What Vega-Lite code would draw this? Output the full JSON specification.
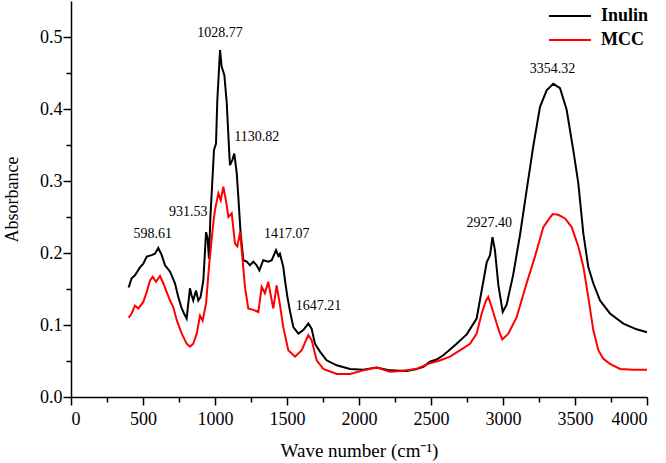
{
  "$schema": "https://vega.github.io/schema/vega-lite/v6.json",
  "width": 576,
  "height": 396,
  "autosize": "none",
  "padding": {"left": 71, "top": 1, "right": 19, "bottom": 66},
  "background": "white",
  "config": {
    "view": {"stroke": null},
    "axis": {
      "grid": false,
      "domainColor": "black",
      "domainWidth": 1.5,
      "tickColor": "black",
      "tickWidth": 1.5,
      "labelFont": "Liberation Serif",
      "labelFontSize": 18,
      "labelColor": "black",
      "titleFont": "Liberation Serif",
      "titleFontSize": 19,
      "titleFontWeight": "normal",
      "titleColor": "black"
    }
  },
  "datasets": {
    "spectra": [
      {"s": "Inulin", "wn": 400, "a": 0.152},
      {"s": "Inulin", "wn": 421, "a": 0.165},
      {"s": "Inulin", "wn": 444, "a": 0.169},
      {"s": "Inulin", "wn": 479, "a": 0.18},
      {"s": "Inulin", "wn": 502, "a": 0.185},
      {"s": "Inulin", "wn": 526, "a": 0.195},
      {"s": "Inulin", "wn": 560, "a": 0.197},
      {"s": "Inulin", "wn": 583, "a": 0.199},
      {"s": "Inulin", "wn": 606, "a": 0.207},
      {"s": "Inulin", "wn": 630, "a": 0.197},
      {"s": "Inulin", "wn": 653, "a": 0.183},
      {"s": "Inulin", "wn": 688, "a": 0.174},
      {"s": "Inulin", "wn": 722, "a": 0.158},
      {"s": "Inulin", "wn": 745, "a": 0.139},
      {"s": "Inulin", "wn": 769, "a": 0.123},
      {"s": "Inulin", "wn": 785, "a": 0.116},
      {"s": "Inulin", "wn": 803, "a": 0.109},
      {"s": "Inulin", "wn": 826, "a": 0.151},
      {"s": "Inulin", "wn": 838, "a": 0.141},
      {"s": "Inulin", "wn": 849, "a": 0.134},
      {"s": "Inulin", "wn": 868, "a": 0.148},
      {"s": "Inulin", "wn": 884, "a": 0.134},
      {"s": "Inulin", "wn": 900, "a": 0.139},
      {"s": "Inulin", "wn": 919, "a": 0.162},
      {"s": "Inulin", "wn": 938, "a": 0.229},
      {"s": "Inulin", "wn": 949, "a": 0.22},
      {"s": "Inulin", "wn": 958, "a": 0.192},
      {"s": "Inulin", "wn": 968, "a": 0.25},
      {"s": "Inulin", "wn": 977, "a": 0.283},
      {"s": "Inulin", "wn": 993, "a": 0.343},
      {"s": "Inulin", "wn": 1007, "a": 0.352},
      {"s": "Inulin", "wn": 1016, "a": 0.412},
      {"s": "Inulin", "wn": 1035, "a": 0.482},
      {"s": "Inulin", "wn": 1046, "a": 0.459},
      {"s": "Inulin", "wn": 1065, "a": 0.447},
      {"s": "Inulin", "wn": 1081, "a": 0.41},
      {"s": "Inulin", "wn": 1100, "a": 0.335},
      {"s": "Inulin", "wn": 1104, "a": 0.322},
      {"s": "Inulin", "wn": 1120, "a": 0.329},
      {"s": "Inulin", "wn": 1134, "a": 0.338},
      {"s": "Inulin", "wn": 1151, "a": 0.311},
      {"s": "Inulin", "wn": 1162, "a": 0.278},
      {"s": "Inulin", "wn": 1178, "a": 0.227},
      {"s": "Inulin", "wn": 1197, "a": 0.19},
      {"s": "Inulin", "wn": 1220, "a": 0.188},
      {"s": "Inulin", "wn": 1243, "a": 0.183},
      {"s": "Inulin", "wn": 1266, "a": 0.188},
      {"s": "Inulin", "wn": 1289, "a": 0.183},
      {"s": "Inulin", "wn": 1308, "a": 0.176},
      {"s": "Inulin", "wn": 1335, "a": 0.19},
      {"s": "Inulin", "wn": 1370, "a": 0.188},
      {"s": "Inulin", "wn": 1394, "a": 0.19},
      {"s": "Inulin", "wn": 1424, "a": 0.204},
      {"s": "Inulin", "wn": 1440, "a": 0.196},
      {"s": "Inulin", "wn": 1451, "a": 0.199},
      {"s": "Inulin", "wn": 1474, "a": 0.181},
      {"s": "Inulin", "wn": 1486, "a": 0.162},
      {"s": "Inulin", "wn": 1502, "a": 0.14},
      {"s": "Inulin", "wn": 1520, "a": 0.12},
      {"s": "Inulin", "wn": 1544, "a": 0.097},
      {"s": "Inulin", "wn": 1579, "a": 0.088},
      {"s": "Inulin", "wn": 1613, "a": 0.093},
      {"s": "Inulin", "wn": 1648, "a": 0.102},
      {"s": "Inulin", "wn": 1671, "a": 0.095},
      {"s": "Inulin", "wn": 1694, "a": 0.074},
      {"s": "Inulin", "wn": 1729, "a": 0.063},
      {"s": "Inulin", "wn": 1775, "a": 0.051},
      {"s": "Inulin", "wn": 1845, "a": 0.044},
      {"s": "Inulin", "wn": 1938, "a": 0.039},
      {"s": "Inulin", "wn": 2030, "a": 0.038},
      {"s": "Inulin", "wn": 2123, "a": 0.041},
      {"s": "Inulin", "wn": 2215, "a": 0.037},
      {"s": "Inulin", "wn": 2331, "a": 0.036},
      {"s": "Inulin", "wn": 2400, "a": 0.039},
      {"s": "Inulin", "wn": 2447, "a": 0.042},
      {"s": "Inulin", "wn": 2493, "a": 0.049},
      {"s": "Inulin", "wn": 2539, "a": 0.052},
      {"s": "Inulin", "wn": 2585, "a": 0.058},
      {"s": "Inulin", "wn": 2632, "a": 0.066},
      {"s": "Inulin", "wn": 2678, "a": 0.074},
      {"s": "Inulin", "wn": 2748, "a": 0.087},
      {"s": "Inulin", "wn": 2817, "a": 0.109},
      {"s": "Inulin", "wn": 2840, "a": 0.135},
      {"s": "Inulin", "wn": 2863, "a": 0.16},
      {"s": "Inulin", "wn": 2887, "a": 0.187},
      {"s": "Inulin", "wn": 2910, "a": 0.197},
      {"s": "Inulin", "wn": 2927, "a": 0.222},
      {"s": "Inulin", "wn": 2944, "a": 0.204},
      {"s": "Inulin", "wn": 2968, "a": 0.155},
      {"s": "Inulin", "wn": 2998, "a": 0.118},
      {"s": "Inulin", "wn": 3025, "a": 0.128},
      {"s": "Inulin", "wn": 3071, "a": 0.17},
      {"s": "Inulin", "wn": 3118, "a": 0.225},
      {"s": "Inulin", "wn": 3164, "a": 0.287},
      {"s": "Inulin", "wn": 3210, "a": 0.348},
      {"s": "Inulin", "wn": 3257, "a": 0.403},
      {"s": "Inulin", "wn": 3303, "a": 0.426},
      {"s": "Inulin", "wn": 3349, "a": 0.435},
      {"s": "Inulin", "wn": 3396, "a": 0.429},
      {"s": "Inulin", "wn": 3442, "a": 0.399},
      {"s": "Inulin", "wn": 3488, "a": 0.343},
      {"s": "Inulin", "wn": 3523, "a": 0.297},
      {"s": "Inulin", "wn": 3558, "a": 0.227},
      {"s": "Inulin", "wn": 3592, "a": 0.181},
      {"s": "Inulin", "wn": 3627, "a": 0.158},
      {"s": "Inulin", "wn": 3674, "a": 0.134},
      {"s": "Inulin", "wn": 3743, "a": 0.116},
      {"s": "Inulin", "wn": 3836, "a": 0.102},
      {"s": "Inulin", "wn": 3928, "a": 0.094},
      {"s": "Inulin", "wn": 4000, "a": 0.09},
      {"s": "MCC", "wn": 400, "a": 0.11},
      {"s": "MCC", "wn": 421, "a": 0.116},
      {"s": "MCC", "wn": 444, "a": 0.127},
      {"s": "MCC", "wn": 468, "a": 0.123},
      {"s": "MCC", "wn": 502, "a": 0.132},
      {"s": "MCC", "wn": 526, "a": 0.146},
      {"s": "MCC", "wn": 549, "a": 0.162},
      {"s": "MCC", "wn": 567, "a": 0.167},
      {"s": "MCC", "wn": 590, "a": 0.16},
      {"s": "MCC", "wn": 618, "a": 0.168},
      {"s": "MCC", "wn": 641, "a": 0.158},
      {"s": "MCC", "wn": 664, "a": 0.146},
      {"s": "MCC", "wn": 688, "a": 0.134},
      {"s": "MCC", "wn": 710, "a": 0.125},
      {"s": "MCC", "wn": 734, "a": 0.107},
      {"s": "MCC", "wn": 769, "a": 0.088},
      {"s": "MCC", "wn": 803, "a": 0.074},
      {"s": "MCC", "wn": 826, "a": 0.07},
      {"s": "MCC", "wn": 849, "a": 0.074},
      {"s": "MCC", "wn": 873, "a": 0.088},
      {"s": "MCC", "wn": 896, "a": 0.113},
      {"s": "MCC", "wn": 914, "a": 0.106},
      {"s": "MCC", "wn": 938, "a": 0.13},
      {"s": "MCC", "wn": 960, "a": 0.185},
      {"s": "MCC", "wn": 988, "a": 0.241},
      {"s": "MCC", "wn": 1000, "a": 0.26},
      {"s": "MCC", "wn": 1023, "a": 0.283},
      {"s": "MCC", "wn": 1040, "a": 0.273},
      {"s": "MCC", "wn": 1058, "a": 0.292},
      {"s": "MCC", "wn": 1076, "a": 0.273},
      {"s": "MCC", "wn": 1093, "a": 0.25},
      {"s": "MCC", "wn": 1116, "a": 0.255},
      {"s": "MCC", "wn": 1139, "a": 0.213},
      {"s": "MCC", "wn": 1155, "a": 0.209},
      {"s": "MCC", "wn": 1174, "a": 0.229},
      {"s": "MCC", "wn": 1192, "a": 0.19},
      {"s": "MCC", "wn": 1208, "a": 0.153},
      {"s": "MCC", "wn": 1231, "a": 0.123},
      {"s": "MCC", "wn": 1266, "a": 0.121},
      {"s": "MCC", "wn": 1301, "a": 0.118},
      {"s": "MCC", "wn": 1324, "a": 0.153},
      {"s": "MCC", "wn": 1347, "a": 0.144},
      {"s": "MCC", "wn": 1370, "a": 0.16},
      {"s": "MCC", "wn": 1394, "a": 0.134},
      {"s": "MCC", "wn": 1405, "a": 0.123},
      {"s": "MCC", "wn": 1428, "a": 0.155},
      {"s": "MCC", "wn": 1451, "a": 0.128},
      {"s": "MCC", "wn": 1474, "a": 0.097},
      {"s": "MCC", "wn": 1509, "a": 0.065},
      {"s": "MCC", "wn": 1556, "a": 0.056},
      {"s": "MCC", "wn": 1602, "a": 0.065},
      {"s": "MCC", "wn": 1648, "a": 0.086},
      {"s": "MCC", "wn": 1671, "a": 0.079},
      {"s": "MCC", "wn": 1706, "a": 0.051},
      {"s": "MCC", "wn": 1752, "a": 0.039},
      {"s": "MCC", "wn": 1845, "a": 0.032},
      {"s": "MCC", "wn": 1938, "a": 0.032},
      {"s": "MCC", "wn": 2030, "a": 0.037},
      {"s": "MCC", "wn": 2123, "a": 0.041},
      {"s": "MCC", "wn": 2215, "a": 0.035},
      {"s": "MCC", "wn": 2285, "a": 0.036},
      {"s": "MCC", "wn": 2400, "a": 0.039},
      {"s": "MCC", "wn": 2493, "a": 0.047},
      {"s": "MCC", "wn": 2551, "a": 0.05},
      {"s": "MCC", "wn": 2632, "a": 0.056},
      {"s": "MCC", "wn": 2725, "a": 0.068},
      {"s": "MCC", "wn": 2771, "a": 0.074},
      {"s": "MCC", "wn": 2817, "a": 0.088},
      {"s": "MCC", "wn": 2852, "a": 0.116},
      {"s": "MCC", "wn": 2882, "a": 0.134},
      {"s": "MCC", "wn": 2898, "a": 0.139},
      {"s": "MCC", "wn": 2921, "a": 0.125},
      {"s": "MCC", "wn": 2956, "a": 0.102},
      {"s": "MCC", "wn": 2979, "a": 0.088},
      {"s": "MCC", "wn": 2995, "a": 0.08},
      {"s": "MCC", "wn": 3037, "a": 0.088},
      {"s": "MCC", "wn": 3095, "a": 0.111},
      {"s": "MCC", "wn": 3164, "a": 0.158},
      {"s": "MCC", "wn": 3222, "a": 0.195},
      {"s": "MCC", "wn": 3280, "a": 0.236},
      {"s": "MCC", "wn": 3315, "a": 0.246},
      {"s": "MCC", "wn": 3345, "a": 0.254},
      {"s": "MCC", "wn": 3384, "a": 0.253},
      {"s": "MCC", "wn": 3431, "a": 0.248},
      {"s": "MCC", "wn": 3477, "a": 0.236},
      {"s": "MCC", "wn": 3523, "a": 0.209},
      {"s": "MCC", "wn": 3558, "a": 0.181},
      {"s": "MCC", "wn": 3592, "a": 0.139},
      {"s": "MCC", "wn": 3627, "a": 0.093},
      {"s": "MCC", "wn": 3662, "a": 0.065},
      {"s": "MCC", "wn": 3697, "a": 0.053},
      {"s": "MCC", "wn": 3743, "a": 0.046},
      {"s": "MCC", "wn": 3813, "a": 0.039},
      {"s": "MCC", "wn": 3905, "a": 0.038},
      {"s": "MCC", "wn": 4000, "a": 0.038}
    ],
    "peaks": [
      {"label": "598.61", "wn": 567, "a": 0.227},
      {"label": "931.53", "wn": 815, "a": 0.257},
      {"label": "1028.77", "wn": 1035, "a": 0.505},
      {"label": "1130.82", "wn": 1290, "a": 0.361},
      {"label": "1417.07", "wn": 1498, "a": 0.227},
      {"label": "1647.21", "wn": 1718, "a": 0.127},
      {"label": "2927.40", "wn": 2905, "a": 0.242},
      {"label": "3354.32", "wn": 3343, "a": 0.455}
    ]
  },
  "layer": [
    {
      "data": {"name": "spectra"},
      "mark": {"type": "line", "strokeWidth": 2},
      "encoding": {
        "x": {
          "field": "wn", "type": "quantitative",
          "scale": {"domain": [0, 4000], "nice": false},
          "axis": {
            "values": [0, 500, 1000, 1500, 2000, 2500, 3000, 3500, 4000],
            "format": "d",
            "tickSize": 8, "labelPadding": 5,
            "title": "Wave number (cm⁻¹)", "titlePadding": 13
          }
        },
        "y": {
          "field": "a", "type": "quantitative",
          "scale": {"domain": [0, 0.55], "nice": false, "zero": true},
          "axis": {
            "values": [0, 0.1, 0.2, 0.3, 0.4, 0.5],
            "format": ".1f",
            "tickSize": 8, "labelPadding": 1,
            "title": "Absorbance", "titleFontSize": 18, "titlePadding": 18
          }
        },
        "color": {
          "field": "s", "type": "nominal",
          "scale": {"domain": ["Inulin", "MCC"], "range": ["black", "#ff0000"]},
          "legend": {
            "orient": "none", "legendX": 490, "legendY": 6,
            "title": null, "padding": 0,
            "symbolType": "M-3,0H3", "symbolSize": 196, "symbolStrokeWidth": 2,
            "labelFont": "Liberation Serif", "labelFontSize": 18, "labelFontWeight": "bold",
            "labelColor": "black", "labelOffset": 22, "rowPadding": 6
          }
        }
      }
    },
    {
      "data": {"name": "peaks"},
      "mark": {"type": "text", "font": "Liberation Serif", "fontSize": 14, "color": "black", "align": "center", "baseline": "middle"},
      "encoding": {
        "x": {
          "field": "wn", "type": "quantitative",
          "axis": {
            "orient": "bottom", "values": [250, 750, 1250, 1750, 2250, 2750, 3250, 3750],
            "tickSize": 5, "labels": false, "domain": false, "title": null
          }
        },
        "y": {
          "field": "a", "type": "quantitative",
          "axis": {
            "orient": "left", "values": [0.05, 0.15, 0.25, 0.35, 0.45],
            "tickSize": 5, "labels": false, "domain": false, "title": null
          }
        },
        "text": {"field": "label"}
      }
    }
  ],
  "resolve": {"axis": {"x": "independent", "y": "independent"}}
}
